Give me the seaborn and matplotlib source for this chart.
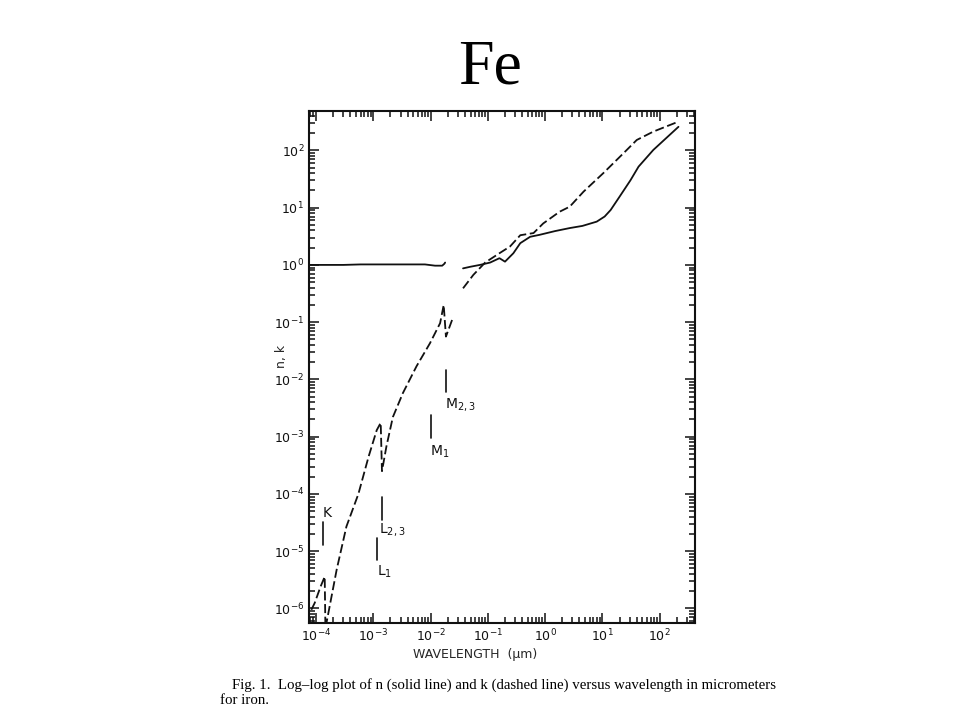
import numpy as np
import pandas as pd
import matplotlib
matplotlib.use("Agg")
import matplotlib.pyplot as plt
import seaborn as sns
from matplotlib.ticker import LogLocator, NullFormatter

# n (solid line): X-ray part and UV-IR part
n_xray_wl = [7.6e-5, 1e-4, 3e-4, 6e-4, 1e-3, 3e-3, 8e-3, 0.012, 0.016, 0.0175, 0.018]
n_xray = [1.0, 1.0, 1.0, 1.02, 1.02, 1.02, 1.02, 0.97, 0.97, 1.05, 1.1]
n_wl = [0.037, 0.05, 0.073, 0.11, 0.16, 0.2, 0.28, 0.37, 0.55, 0.8, 1.5, 2.7, 4.5,
        8, 11, 14, 20, 31, 43, 78, 214]
n_val = [0.87, 0.93, 1.0, 1.1, 1.31, 1.14, 1.6, 2.4, 3.1, 3.35, 3.9, 4.4, 4.8,
         5.7, 7.0, 9.1, 15.5, 30, 52, 102, 258]

# k (dashed line): through the K, L and M absorption edges, then UV-IR
k_xray_wl = [8.3e-5, 9.5e-5, 1.2e-4, 1.42e-4, 1.46e-4, 1.6e-4, 2.3e-4, 3.4e-4, 5.5e-4,
             8.3e-4, 1.15e-3, 1.35e-3, 1.42e-3, 1.7e-3, 2.2e-3, 3.3e-3, 5.7e-3, 9.8e-3,
             0.0147, 0.017, 0.0186, 0.0245]
k_xray = [9.5e-7, 1.25e-6, 2.4e-6, 3.6e-6, 4.5e-7, 7.2e-7, 4.8e-6, 2.7e-5, 1.0e-4,
          4.5e-4, 1.3e-3, 1.75e-3, 2.5e-4, 6.8e-4, 2.2e-3, 5.8e-3, 0.017, 0.043,
          0.096, 0.20, 0.056, 0.118]
k_wl = [0.037, 0.056, 0.09, 0.16, 0.245, 0.37, 0.63, 0.93, 1.8, 2.7, 4.7, 10.4,
        23.4, 40, 78, 214]
k_val = [0.39, 0.67, 1.1, 1.6, 2.1, 3.3, 3.6, 5.3, 8.5, 10.4, 19, 40, 89, 152, 213, 318]

# absorption edges
edge_names = ["K", "$\\mathrm{L_{2,3}}$", "$\\mathrm{L_1}$", "$\\mathrm{M_{2,3}}$", "$\\mathrm{M_1}$"]
edge_wl = [1.35e-4, 1.41e-3, 1.18e-3, 0.0187, 0.0102]

n_df = pd.concat([
    pd.DataFrame({"wl": n_xray_wl, "v": n_xray, "seg": 0}),
    pd.DataFrame({"wl": n_wl, "v": n_val, "seg": 1}),
])
k_df = pd.concat([
    pd.DataFrame({"wl": k_xray_wl, "v": k_xray, "seg": 0}),
    pd.DataFrame({"wl": k_wl, "v": k_val, "seg": 1}),
])

sns.set_style("ticks")
plt.rcParams['font.family'] = ['DejaVu Sans']

fig = plt.figure(figsize=(9.6, 7.2), dpi=100)
ax = fig.add_axes([0.322, 0.135, 0.402, 0.711])

sns.lineplot(data=n_df, x="wl", y="v", units="seg", estimator=None, sort=False,
             color="#111111", lw=1.3, ax=ax)
sns.lineplot(data=k_df, x="wl", y="v", units="seg", estimator=None, sort=False,
             color="#111111", lw=1.3, ax=ax, dashes=False, linestyle=(0, (5, 2)))

ax.set_xscale("log")
ax.set_yscale("log")
ax.set_xlim(10**-4.12, 10**2.62)
ax.set_ylim(10**-6.25, 10**2.69)

# edge markers: (line bottom, line top, label y) in data units
edge_marks = [(1.3e-5, 3.2e-5, 4.7e-5), (3.5e-5, 8.9e-5, 2.4e-5), (7.1e-6, 1.7e-5, 4.4e-6),
              (6.0e-3, 1.47e-2, 3.6e-3), (9.6e-4, 2.4e-3, 5.5e-4)]
label_dx = [1.15, 0.88, 0.97, 0.95, 0.95]
for name, wl, (y0, y1, yl), dx in zip(edge_names, edge_wl, edge_marks, label_dx):
    ax.plot([wl, wl], [y0, y1], color="#111111", lw=1.2)
    ax.text(wl * dx, yl, name, fontsize=10, ha="left" if name != "K" else "center",
            va="center", color="#111111")

ax.xaxis.set_major_locator(LogLocator(base=10, numticks=20))
ax.yaxis.set_major_locator(LogLocator(base=10, numticks=20))
ax.xaxis.set_minor_locator(LogLocator(base=10, subs=np.arange(2, 10), numticks=100))
ax.yaxis.set_minor_locator(LogLocator(base=10, subs=np.arange(2, 10), numticks=100))
ax.xaxis.set_minor_formatter(NullFormatter())
ax.yaxis.set_minor_formatter(NullFormatter())
ax.tick_params(which="both", direction="in", top=True, right=True, colors="#111111",
               labelsize=9, width=1.1)
ax.tick_params(which="major", length=7)
ax.tick_params(which="minor", length=4)
for s in ax.spines.values():
    s.set_linewidth(1.5)
    s.set_color("#111111")

ax.set_xlabel("WAVELENGTH  (\u03bcm)", fontsize=9)
ax.set_ylabel("n, k", fontsize=9)
ax.xaxis.set_label_coords(0.43, -0.05)
ax.yaxis.set_label_coords(-0.055, 0.52)

fig.text(0.51, 0.905, "Fe", family="Liberation Serif", fontsize=46, ha="center",
         va="center", color="black")
fig.text(0.242, 0.049, "Fig. 1.  Log\u2013log plot of n (solid line) and k (dashed line) versus wavelength in micrometers",
         family="Liberation Serif", fontsize=10.7, ha="left", va="center", color="black")
fig.text(0.229, 0.027, "for iron.", family="Liberation Serif", fontsize=10.7, ha="left",
         va="center", color="black")

fig.savefig("out.png", dpi=100)
